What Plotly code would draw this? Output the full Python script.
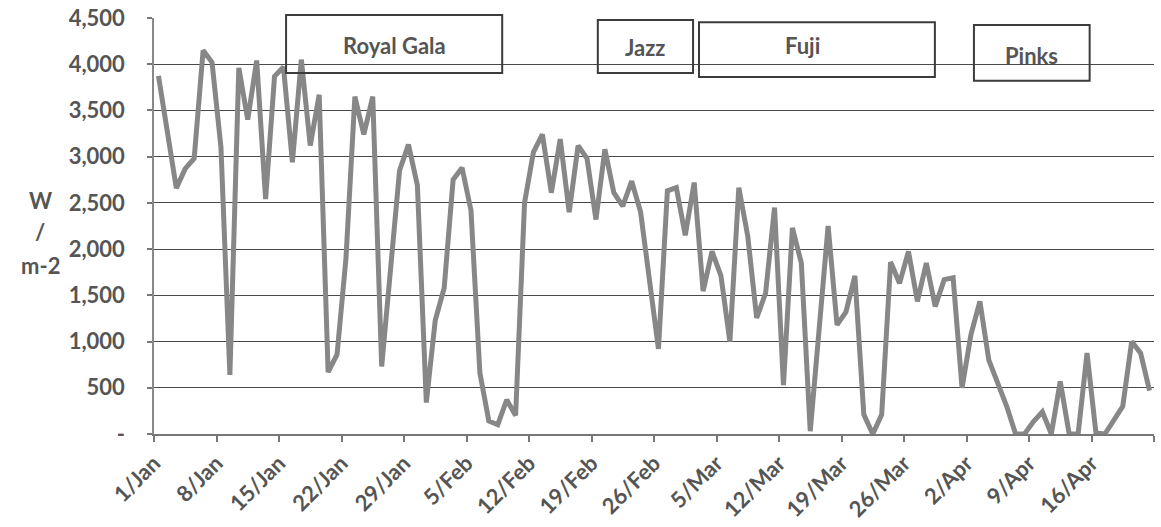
import pandas as pd
import plotly.graph_objects as go

# ---- data ----
start_day = "2013-01-01 12:00"
radiation = [
    3875, 3250, 2660, 2870, 2980, 4150, 4020, 3100, 640, 3960,
    3400, 4040, 2540, 3870, 3970, 2940, 4050, 3120, 3670, 670,
    860, 1900, 3650, 3240, 3650, 730, 1750, 2850, 3130, 2690,
    340, 1230, 1580, 2750, 2880, 2420, 660, 140, 100, 370,
    200, 2500, 3050, 3240, 2610, 3190, 2400, 3120, 2980, 2320,
    3080, 2610, 2465, 2736, 2400, 1700, 920, 2630, 2665, 2150,
    2720, 1545, 1975, 1710, 1000, 2665, 2140, 1255, 1525, 2450,
    530, 2230, 1850, 30, 1160, 2250, 1180, 1320, 1710, 210,
    0, 210, 1860, 1630, 1975, 1435, 1850, 1380, 1670, 1690,
    500, 1075, 1435, 800, 550, 300, 0, 0, 135, 240,
    0, 570, 0, 0, 875, 10, 0, 150, 300, 1000,
    875, 470,
]
dates = pd.date_range(start_day, periods=len(radiation), freq="D")

y_tickvals = [0, 500, 1000, 1500, 2000, 2500, 3000, 3500, 4000, 4500]
y_ticktext = ["-", "500", "1,000", "1,500", "2,000", "2,500", "3,000", "3,500", "4,000", "4,500"]

varieties = ["Royal Gala", "Jazz", "Fuji", "Pinks"]
variety_start = ["2013-01-15 19:00", "2013-02-19 17:00", "2013-03-03 01:00", "2013-04-02 20:00"]
variety_end = ["2013-02-09 00:00", "2013-03-02 09:00", "2013-03-29 11:00", "2013-04-15 19:00"]

y_title_lines = ["W", "/", "m-2"]

# ---- styling / layout (not data) ----
box_y = [(0.868, 1.007), (0.868, 0.995), (0.858, 0.990), (0.849, 0.983)]
label_y = [0.933, 0.930, 0.933, 0.911]
label_xshift = [0, 0, -14, 0]
title_line_y = [0.5625, 0.486, 0.404]

txt_col = "#555555"
font_fam = "Lato"
fsize = 22

fig = go.Figure()
fig.add_trace(go.Scatter(
    x=dates, y=radiation, mode="lines",
    line=dict(color="#878787", width=5),
    hoverinfo="x+y", showlegend=False,
))

shapes = []
annotations = []
for name, s, e, (y0, y1), ly, xs in zip(varieties, variety_start, variety_end, box_y, label_y, label_xshift):
    shapes.append(dict(type="rect", xref="x", yref="paper", x0=s, x1=e, y0=y0, y1=y1,
                       line=dict(color="#3c3c3c", width=2), fillcolor="rgba(0,0,0,0)", layer="above"))
    mid = pd.Timestamp(s) + (pd.Timestamp(e) - pd.Timestamp(s)) / 2
    annotations.append(dict(x=mid, y=ly, xref="x", yref="paper", text=name, showarrow=False,
                            xanchor="center", yanchor="middle", xshift=xs,
                            font=dict(family=font_fam, size=fsize, color=txt_col, weight="bold")))

for t, ty in zip(y_title_lines, title_line_y):
    annotations.append(dict(x=-0.114, y=ty, xref="paper", yref="paper", text=t,
                            showarrow=False, xanchor="center", yanchor="middle",
                            font=dict(family=font_fam, size=fsize, color=txt_col, weight="bold")))

fig.update_layout(
    width=1161, height=527,
    margin=dict(l=154, r=7, t=18, b=93, autoexpand=False),
    paper_bgcolor="white", plot_bgcolor="white",
    shapes=shapes, annotations=annotations,
    showlegend=False,
)
fig.update_xaxes(
    type="date", range=["2013-01-01", "2013-04-23"], automargin=False,
    tick0="2013-01-01", dtick=7 * 86400000, tickformat="%-d/%b",
    tickangle=-45, ticks="outside", ticklen=6, tickcolor="#777", tickwidth=1.5,
    showline=True, linecolor="#777", linewidth=1.5,
    showgrid=False, zeroline=False,
    tickfont=dict(family=font_fam, size=fsize, color=txt_col, weight="bold"),
)
fig.update_yaxes(
    range=[0, 4500], tickvals=y_tickvals, ticktext=y_ticktext, automargin=False,
    ticks="outside", ticklen=5, tickcolor="#777", tickwidth=1.5,
    showline=True, linecolor="#888", linewidth=1.5,
    showgrid=True, gridcolor="#4a4a4a", gridwidth=1.2, zeroline=False,
    ticklabelstandoff=18,
    tickfont=dict(family=font_fam, size=fsize, color=txt_col, weight="bold"),
)

fig.write_html("out.html", config={"displayModeBar": False},
               post_script="document.body.style.margin='0';document.body.style.overflow='hidden';")
